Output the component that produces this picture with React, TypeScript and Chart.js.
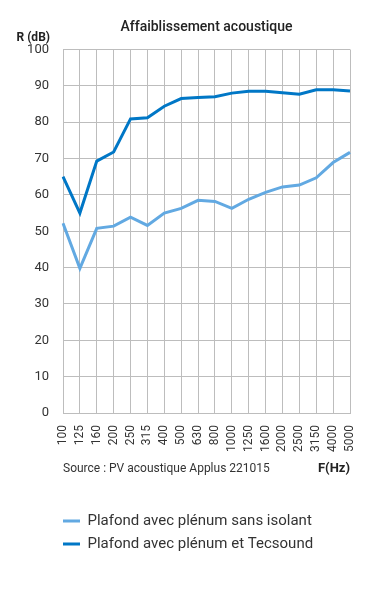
import { useEffect, useRef } from 'react';
import { Chart, registerables } from 'chart.js';

Chart.register(...registerables);

const frequencies = ['100', '125', '160', '200', '250', '315', '400', '500', '630', '800', '1000', '1250', '1600', '2000', '2500', '3150', '4000', '5000'];
const sansIsolant = [52.2, 39.8, 50.8, 51.4, 53.9, 51.6, 55, 56.3, 58.5, 58.2, 56.3, 58.8, 60.7, 62.2, 62.7, 64.7, 68.9, 71.7];
const tecsound = [65, 55, 69.3, 71.8, 80.9, 81.2, 84.4, 86.5, 86.8, 87, 88, 88.5, 88.5, 88.1, 87.7, 88.9, 88.9, 88.6];
const seriesLabels = ['Plafond avec plénum sans isolant', 'Plafond avec plénum et Tecsound'];
const yMin = 0;
const yMax = 100;
const yStep = 10;
const titleText = 'Affaiblissement acoustique';
const yAxisLabel = 'R (dB)';
const xAxisLabel = 'F(Hz)';
const sourceText = 'Source : PV acoustique Applus 221015';

const LIGHT = '#62a9e2';
const DARK = '#0077c6';
const GRID = '#bdbdbd';
const TEXT = '#333333';
const SANS = 'Roboto, sans-serif';

export default function App() {
  const ref = useRef<HTMLCanvasElement>(null);

  useEffect(() => {
    const canvas = ref.current;
    if (!canvas) return;

    const annotations = {
      id: 'annotations',
      afterLayout(chart: any) {
        const lg = chart.legend;
        if (lg) {
          lg.left -= 8;
          lg.right -= 8;
        }
      },
      afterDraw(chart: any) {
        const { ctx, chartArea } = chart;
        ctx.save();
        ctx.fillStyle = '#222222';
        ctx.textBaseline = 'middle';
        ctx.font = `bold 12px ${SANS}`;
        ctx.textAlign = 'right';
        ctx.fillText(yAxisLabel, 50, chartArea.top - 12);
        ctx.fillStyle = TEXT;
        ctx.font = `12px ${SANS}`;
        ctx.textAlign = 'left';
        ctx.fillText(sourceText, chartArea.left, chartArea.bottom + 55.5);
        ctx.fillStyle = '#222222';
        ctx.font = `bold 13px ${SANS}`;
        ctx.textAlign = 'right';
        ctx.fillText(xAxisLabel, chartArea.right, chartArea.bottom + 55.5);
        ctx.restore();
      },
    };

    const chart = new Chart(canvas, {
      type: 'line',
      data: {
        labels: frequencies,
        datasets: [
          { label: seriesLabels[0], data: sansIsolant, borderColor: LIGHT, backgroundColor: LIGHT, borderWidth: 3, pointRadius: 0, tension: 0 },
          { label: seriesLabels[1], data: tecsound, borderColor: DARK, backgroundColor: DARK, borderWidth: 3, pointRadius: 0, tension: 0 },
        ],
      },
      options: {
        responsive: false,
        animation: false,
        layout: { padding: { left: 0, right: 28, top: 0, bottom: 38.5 } },
        scales: {
          x: {
            offset: false,
            grid: { color: GRID, drawTicks: false },
            border: { color: GRID },
            ticks: { autoSkip: false, minRotation: 90, maxRotation: 90, padding: 12, color: TEXT, font: { family: SANS, size: 12 } },
            afterFit: (s: any) => { s.height = 92.5; },
          },
          y: {
            min: yMin,
            max: yMax,
            grid: { color: GRID, drawTicks: false },
            border: { color: GRID },
            ticks: { stepSize: yStep, padding: 14, color: TEXT, font: { family: SANS, size: 13 } },
            afterFit: (s: any) => { s.width = 63; },
          },
        },
        plugins: {
          title: {
            display: true,
            fullSize: false,
            text: titleText,
            color: '#222222',
            font: { family: SANS, size: 14, weight: '500' },
            padding: { top: 18.6, bottom: 14.1 },
          },
          legend: {
            position: 'bottom',
            align: 'start',
            fullSize: false,
            labels: {
              boxWidth: 17,
              boxHeight: 3,
              padding: 8,
              color: TEXT,
              font: { family: SANS, size: 15 },
              generateLabels: (c: any) =>
                Chart.defaults.plugins.legend.labels.generateLabels(c).map((l: any) => ({ ...l, lineWidth: 0, fillStyle: l.strokeStyle })),
            },
          },
          tooltip: { enabled: false },
        },
      },
      plugins: [annotations],
    });

    return () => chart.destroy();
  }, []);

  return (
    <div style={{ position: 'absolute', left: 0, top: 0, width: 378, height: 600 }}>
      <canvas ref={ref} width={378} height={600} style={{ display: 'block' }} />
    </div>
  );
}
